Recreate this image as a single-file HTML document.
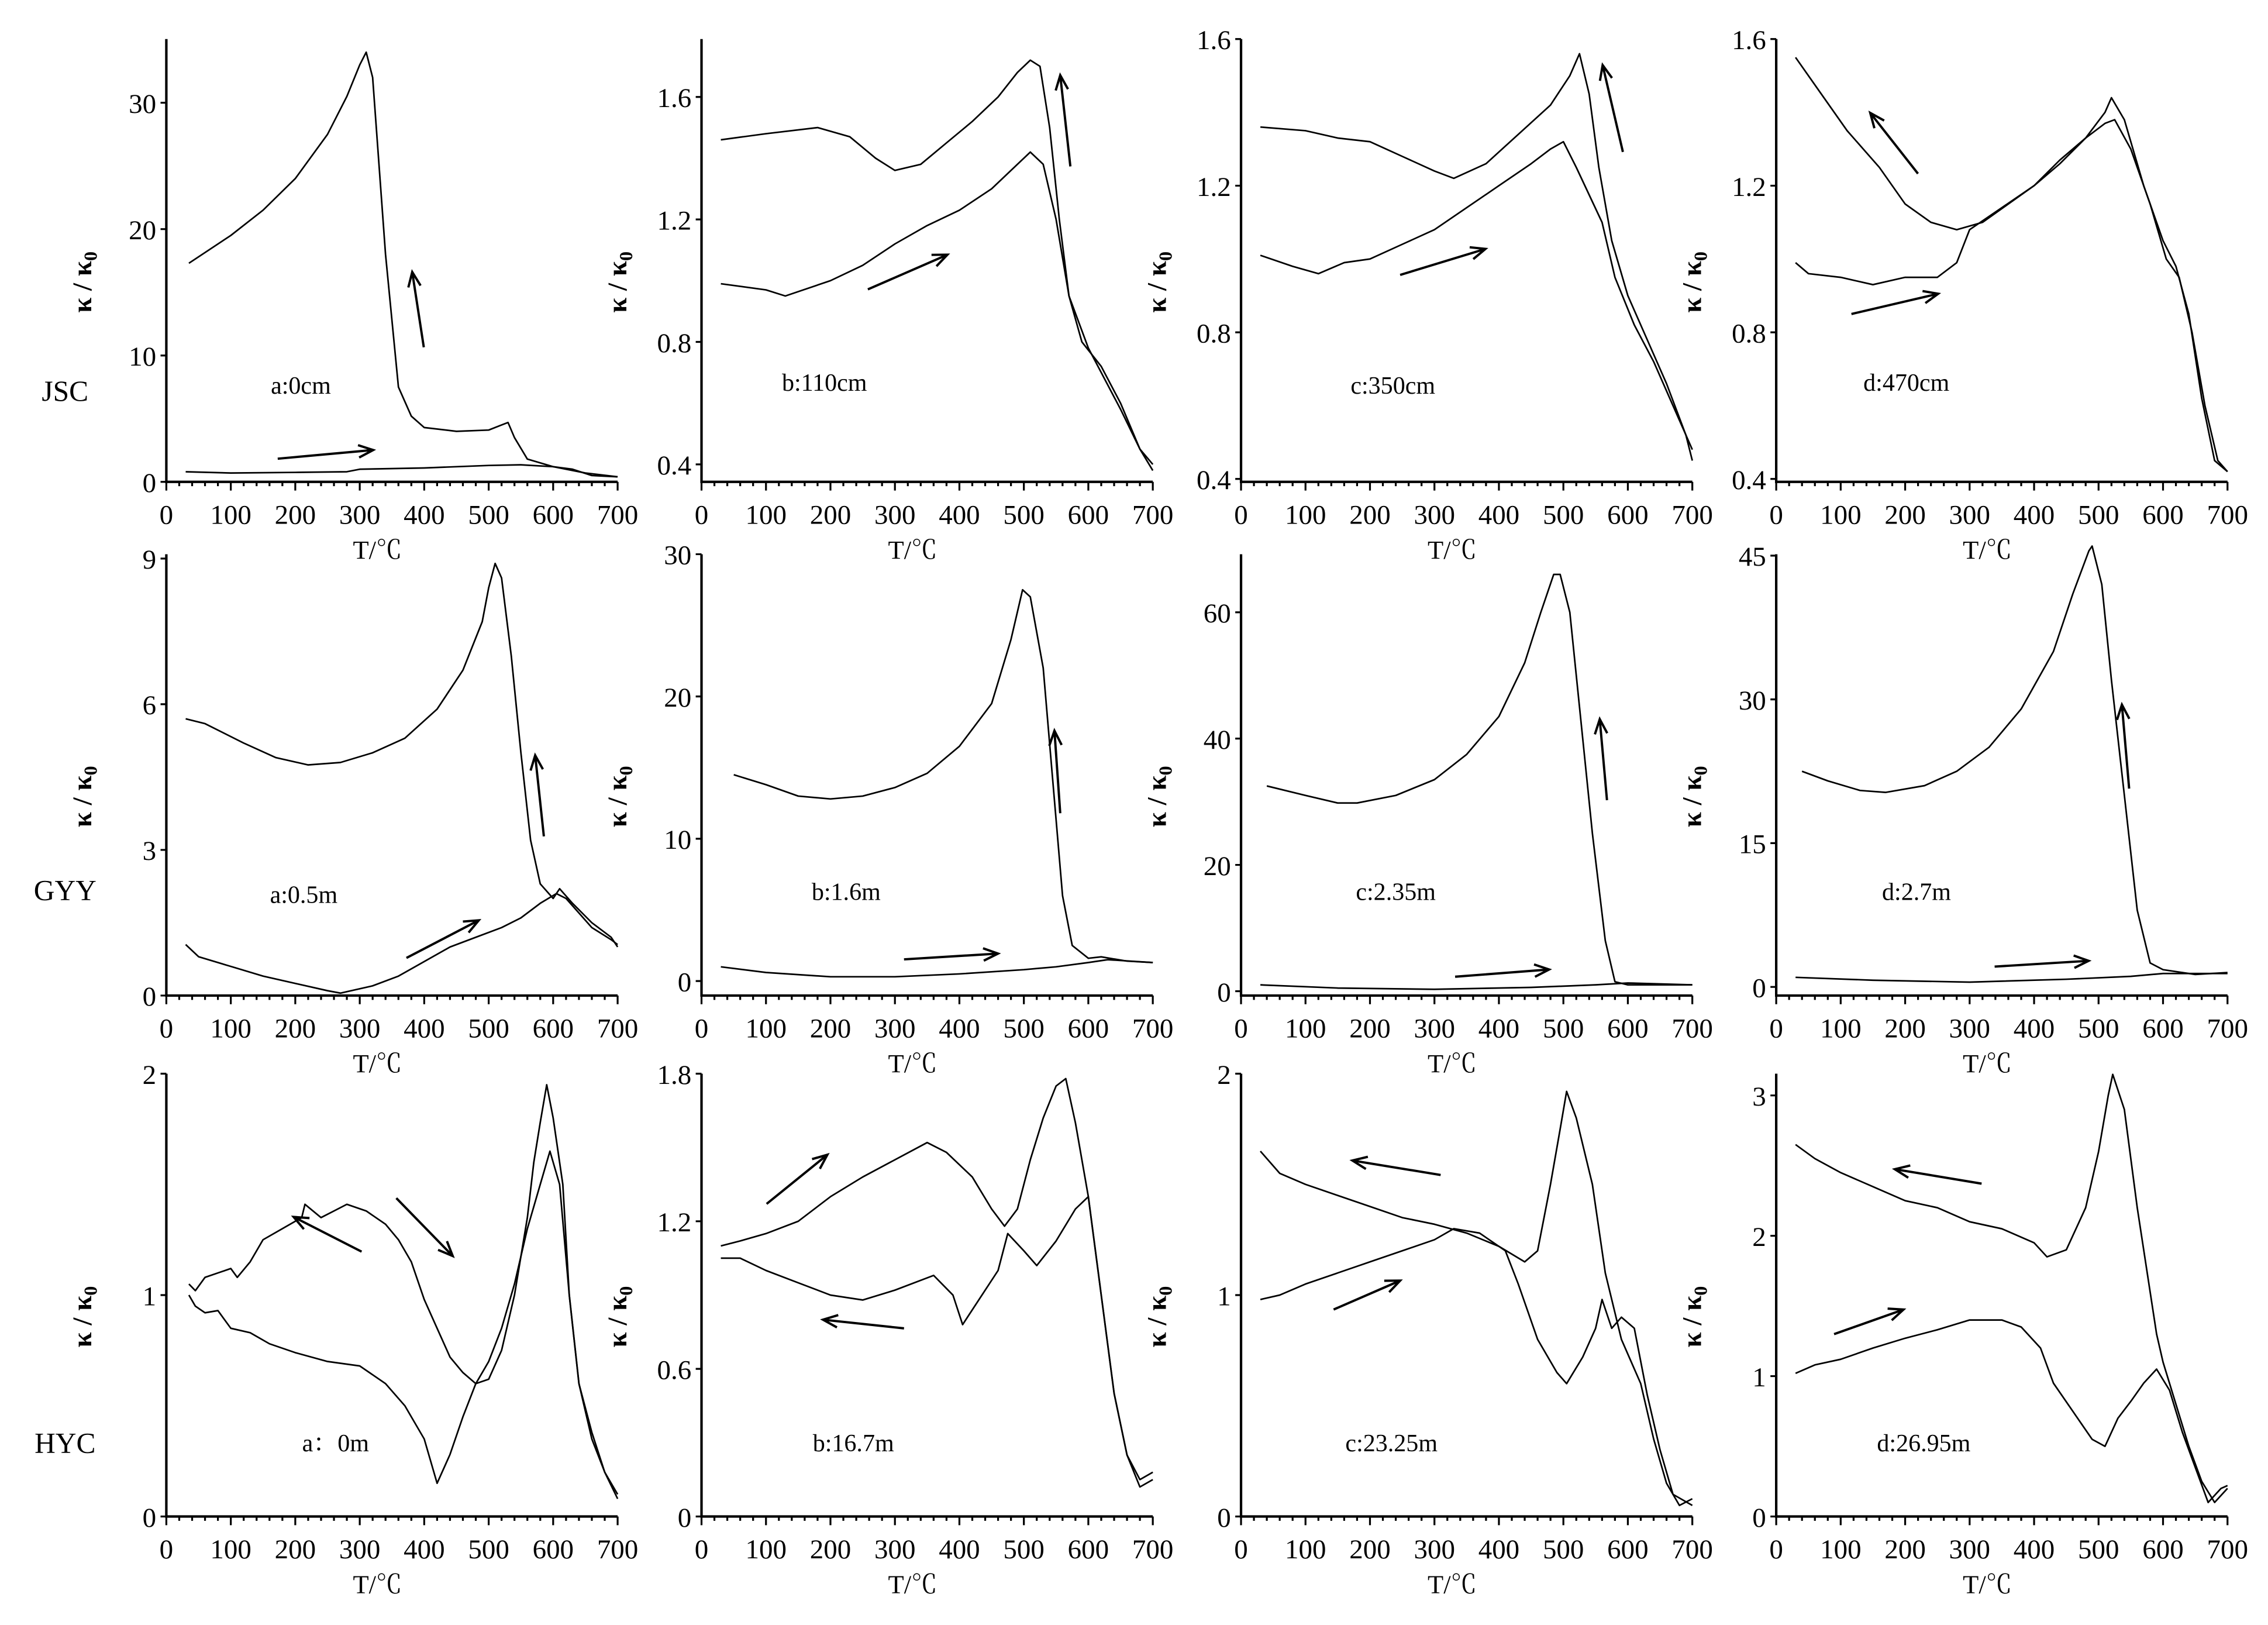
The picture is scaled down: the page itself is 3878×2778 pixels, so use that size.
<!DOCTYPE html>
<html><head><meta charset="utf-8"><title>Thermomagnetic curves</title>
<style>
html,body{margin:0;padding:0;background:#fff;}
svg{display:block;}
text{font-family:"Liberation Serif","Noto Serif CJK SC",serif;fill:#000;}
</style></head>
<body>
<svg id="fig" xmlns="http://www.w3.org/2000/svg" width="3878" height="2778" viewBox="0 0 1568 1123" preserveAspectRatio="none">
<rect x="0" y="0" width="1568" height="1123" fill="#fff"/>
<text x="45" y="277" font-size="20" text-anchor="middle">JSC</text>
<text x="45" y="622" font-size="20" text-anchor="middle">GYY</text>
<text x="45" y="1004" font-size="20" text-anchor="middle">HYC</text>
</svg>
<script>
// ===== data (temperature °C, kappa/kappa0) =====
const r1aHeatT=[30,100,200,280,300,400,500,550,600,630,660,700];
const r1aHeatV=[0.8,0.7,0.75,0.8,1.0,1.1,1.3,1.35,1.2,1.0,0.5,0.4];
const r1aCoolT=[35,100,150,200,250,280,300,310,320,340,360,380,400,450,500,520,530,540,560,600,650,700];
const r1aCoolV=[17.3,19.5,21.5,24,27.5,30.5,33,34,32,18,7.5,5.2,4.3,4.0,4.1,4.5,4.7,3.5,1.8,1.2,0.7,0.4];

const r1bHeatT=[30,100,130,200,250,300,350,400,450,490,510,530,550,570,590,620,650,680,700];
const r1bHeatV=[0.99,0.97,0.95,1.0,1.05,1.12,1.18,1.23,1.3,1.38,1.42,1.38,1.2,0.95,0.8,0.72,0.6,0.45,0.4];
const r1bCoolT=[30,100,180,230,270,300,340,380,420,460,490,510,525,540,555,570,600,620,650,680,700];
const r1bCoolV=[1.46,1.48,1.5,1.47,1.4,1.36,1.38,1.45,1.52,1.6,1.68,1.72,1.7,1.5,1.2,0.95,0.78,0.7,0.58,0.45,0.38];

const r1cHeatT=[30,80,120,160,200,250,300,350,400,450,480,500,520,560,580,610,640,670,700];
const r1cHeatV=[1.01,0.98,0.96,0.99,1.0,1.04,1.08,1.14,1.2,1.26,1.3,1.32,1.25,1.1,0.95,0.82,0.72,0.6,0.48];
const r1cCoolT=[30,100,150,200,250,300,330,380,430,480,510,525,540,555,575,600,630,660,690,700];
const r1cCoolV=[1.36,1.35,1.33,1.32,1.28,1.24,1.22,1.26,1.34,1.42,1.5,1.56,1.45,1.25,1.05,0.9,0.78,0.66,0.52,0.45];

const r1dCoolT=[30,70,110,160,200,240,280,320,360,400,440,480,510,520,540,570,600,620,640,660,680,700];
const r1dCoolV=[1.55,1.45,1.35,1.25,1.15,1.1,1.08,1.1,1.15,1.2,1.27,1.33,1.4,1.44,1.38,1.2,1.05,0.98,0.85,0.62,0.45,0.42];
const r1dHeatT=[30,50,100,150,200,250,280,300,350,400,440,480,510,525,550,580,605,625,645,665,685,700];
const r1dHeatV=[0.99,0.96,0.95,0.93,0.95,0.95,0.99,1.08,1.14,1.2,1.26,1.33,1.37,1.38,1.3,1.15,1.0,0.95,0.8,0.6,0.45,0.42];

const r2aCoolT=[30,60,120,170,220,270,320,370,420,460,490,500,510,520,535,550,565,580,600,610,630,660,690,700];
const r2aCoolV=[5.7,5.6,5.2,4.9,4.75,4.8,5.0,5.3,5.9,6.7,7.7,8.4,8.9,8.6,7,5,3.2,2.3,2.0,2.2,1.9,1.5,1.2,1.0];
const r2aHeatT=[30,50,100,150,200,250,270,320,360,400,440,480,520,550,580,605,620,640,660,690,700];
const r2aHeatV=[1.05,0.8,0.6,0.4,0.25,0.1,0.05,0.2,0.4,0.7,1.0,1.2,1.4,1.6,1.9,2.1,2.0,1.7,1.4,1.15,1.05];

const r2bCoolT=[50,100,150,200,250,300,350,400,450,480,498,510,530,545,560,575,600,620,660,700];
const r2bCoolV=[14.5,13.8,13.0,12.8,13.0,13.6,14.6,16.5,19.5,24,27.5,27,22,14,6,2.5,1.6,1.7,1.4,1.3];
const r2bHeatT=[30,100,200,300,400,500,550,600,630,700];
const r2bHeatV=[1.0,0.6,0.3,0.3,0.5,0.8,1.0,1.3,1.5,1.3];

const r2cCoolT=[40,100,150,180,240,300,350,400,440,465,485,495,510,525,545,565,580,600,700];
const r2cCoolV=[32.5,31,29.8,29.8,31,33.5,37.5,43.5,52,60,66,66,60,45,25,8,1.5,1.0,1.0];
const r2cHeatT=[30,150,300,450,550,600,700];
const r2cHeatV=[1.0,0.5,0.3,0.6,1.0,1.3,1.0];

const r2dCoolT=[40,80,130,170,230,280,330,380,430,460,485,490,505,520,540,560,580,600,650,700];
const r2dCoolV=[22.5,21.5,20.5,20.3,21,22.5,25,29,35,41,45.5,46,42,32,20,8,2.5,1.8,1.3,1.5];
const r2dHeatT=[30,150,300,450,550,600,700];
const r2dHeatV=[1.0,0.7,0.5,0.8,1.1,1.4,1.4];

const r3aHeatT=[35,45,60,80,100,110,130,150,180,210,215,240,260,280,310,340,360,380,400,420,440,460,480,500,520,540,560,570,580,590,600,615,625,640,660,680,700];
const r3aHeatV=[1.05,1.02,1.08,1.1,1.12,1.08,1.15,1.25,1.3,1.35,1.41,1.35,1.38,1.41,1.38,1.32,1.25,1.15,0.98,0.85,0.72,0.65,0.6,0.62,0.75,1.0,1.35,1.6,1.78,1.95,1.8,1.5,1.0,0.6,0.35,0.2,0.08];
const r3aCoolT=[35,45,60,80,100,130,160,200,250,300,340,370,400,420,440,460,480,500,520,540,560,580,595,610,625,640,660,680,700];
const r3aCoolV=[1.0,0.95,0.92,0.93,0.85,0.83,0.78,0.74,0.7,0.68,0.6,0.5,0.35,0.15,0.28,0.45,0.6,0.7,0.85,1.05,1.3,1.5,1.65,1.5,1.0,0.6,0.38,0.2,0.1];

const r3bHeatT=[30,60,100,150,200,250,300,350,380,420,450,470,490,510,530,550,565,580,600,620,640,660,680,700];
const r3bHeatV=[1.1,1.12,1.15,1.2,1.3,1.38,1.45,1.52,1.48,1.38,1.25,1.18,1.25,1.45,1.62,1.75,1.78,1.6,1.3,0.9,0.5,0.25,0.15,0.18];
const r3bCoolT=[30,60,100,150,200,250,300,360,390,405,430,460,475,500,520,550,580,600,620,640,660,680,700];
const r3bCoolV=[1.05,1.05,1.0,0.95,0.9,0.88,0.92,0.98,0.9,0.78,0.88,1.0,1.15,1.08,1.02,1.12,1.25,1.3,0.9,0.5,0.25,0.12,0.15];

const r3cCoolT=[30,60,100,150,200,250,300,350,400,440,460,480,495,505,520,545,565,590,620,640,660,680,700];
const r3cCoolV=[1.65,1.55,1.5,1.45,1.4,1.35,1.32,1.28,1.22,1.15,1.2,1.5,1.75,1.92,1.8,1.5,1.1,0.8,0.6,0.35,0.15,0.05,0.08];
const r3cHeatT=[30,60,100,150,200,250,300,330,370,410,430,460,490,505,530,550,560,575,590,610,630,650,670,700];
const r3cHeatV=[0.98,1.0,1.05,1.1,1.15,1.2,1.25,1.3,1.28,1.2,1.05,0.8,0.65,0.6,0.72,0.85,0.98,0.85,0.9,0.85,0.55,0.3,0.1,0.05];

const r3dCoolT=[30,60,100,150,200,250,300,350,400,420,450,480,500,515,522,540,560,580,590,600,620,640,660,680,700];
const r3dCoolV=[2.65,2.55,2.45,2.35,2.25,2.2,2.1,2.05,1.95,1.85,1.9,2.2,2.6,3.0,3.15,2.9,2.2,1.6,1.3,1.1,0.8,0.5,0.25,0.1,0.2];
const r3dHeatT=[30,60,100,150,200,250,300,350,380,410,430,460,490,510,530,550,570,590,610,630,650,670,690,700];
const r3dHeatV=[1.02,1.08,1.12,1.2,1.27,1.33,1.4,1.4,1.35,1.2,0.95,0.75,0.55,0.5,0.7,0.82,0.95,1.05,0.9,0.6,0.35,0.1,0.2,0.22];

// y-axis tick labels per panel
const ticksR1a=[0,10,20,30], ticksR1b=[0.4,0.8,1.2,1.6], ticksR1c=[0.4,0.8,1.2,1.6], ticksR1d=[0.4,0.8,1.2,1.6];
const ticksR2a=[0,3,6,9], ticksR2b=[0,10,20,30], ticksR2c=[0,20,40,60], ticksR2d=[0,15,30,45];
const ticksR3a=[0,1,2], ticksR3b=[0,0.6,1.2,1.8], ticksR3c=[0,1,2], ticksR3d=[0,1,2,3];
const xTickLabels=[0,100,200,300,400,500,600,700];
const panelLabels=["a:0cm","b:110cm","c:350cm","d:470cm","a:0.5m","b:1.6m","c:2.35m","d:2.7m","a：0m","b:16.7m","c:23.25m","d:26.95m"];

// ===== layout =====
const NS="http://www.w3.org/2000/svg";
const svg=document.getElementById('fig');
const colX=[[115,427],[485,797],[858,1170],[1228,1540]];
const rowY=[[333,27],[688,383],[1048,742]];
const panels=[
 {r:0,c:0,min:0,max:35.04,ticks:ticksR1a,curves:[[r1aHeatT,r1aHeatV],[r1aCoolT,r1aCoolV]],lab:[208,272],arrows:[[192,317,258,311],[293,240,285,188]]},
 {r:0,c:1,min:0.343,max:1.789,ticks:ticksR1b,curves:[[r1bHeatT,r1bHeatV],[r1bCoolT,r1bCoolV]],lab:[570,270],arrows:[[600,200,655,176],[740,115,733,52]]},
 {r:0,c:2,min:0.392,max:1.6,ticks:ticksR1c,curves:[[r1cHeatT,r1cHeatV],[r1cCoolT,r1cCoolV]],lab:[963,272],arrows:[[968,190,1027,172],[1122,105,1108,45]]},
 {r:0,c:3,min:0.392,max:1.6,ticks:ticksR1d,curves:[[r1dHeatT,r1dHeatV],[r1dCoolT,r1dCoolV]],lab:[1318,270],arrows:[[1280,217,1340,203],[1326,120,1293,78]]},
 {r:1,c:0,min:0,max:9.09,ticks:ticksR2a,curves:[[r2aHeatT,r2aHeatV],[r2aCoolT,r2aCoolV]],lab:[210,624],arrows:[[281,662,331,636],[376,578,370,522]]},
 {r:1,c:1,min:-1.02,max:30,ticks:ticksR2b,curves:[[r2bHeatT,r2bHeatV],[r2bCoolT,r2bCoolV]],lab:[585,622],arrows:[[625,663,690,659],[733,562,729,505]]},
 {r:1,c:2,min:-0.69,max:69.2,ticks:ticksR2c,curves:[[r2cHeatT,r2cHeatV],[r2cCoolT,r2cCoolV]],lab:[965,622],arrows:[[1006,675,1071,670],[1111,553,1106,497]]},
 {r:1,c:3,min:-0.9,max:45.15,ticks:ticksR2d,curves:[[r2dHeatT,r2dHeatV],[r2dCoolT,r2dCoolV]],lab:[1325,622],arrows:[[1379,668,1444,664],[1472,545,1467,487]]},
 {r:2,c:0,min:0,max:2,ticks:ticksR3a,curves:[[r3aHeatT,r3aHeatV],[r3aCoolT,r3aCoolV]],lab:[232,1003],arrows:[[274,828,313,868],[250,865,203,841]]},
 {r:2,c:1,min:0,max:1.8,ticks:ticksR3b,curves:[[r3bHeatT,r3bHeatV],[r3bCoolT,r3bCoolV]],lab:[590,1003],arrows:[[530,832,572,798],[625,918,569,912]]},
 {r:2,c:2,min:0,max:2,ticks:ticksR3c,curves:[[r3cHeatT,r3cHeatV],[r3cCoolT,r3cCoolV]],lab:[962,1003],arrows:[[996,812,935,802],[922,905,968,885]]},
 {r:2,c:3,min:0,max:3.155,ticks:ticksR3d,curves:[[r3dHeatT,r3dHeatV],[r3dCoolT,r3dCoolV]],lab:[1330,1003],arrows:[[1370,818,1310,808],[1268,922,1316,905]]}
];
function mk(tag,attrs,parent){const e=document.createElementNS(NS,tag);for(const k in attrs)e.setAttribute(k,attrs[k]);(parent||svg).appendChild(e);return e;}

panels.forEach((p,i)=>{
 const [x0,x1]=colX[p.c];const [yb,yt]=rowY[p.r];
 const xs=t=>x0+(t/700)*(x1-x0);
 const ys=v=>yb-(v-p.min)/(p.max-p.min)*(yb-yt);
 const g=mk('g',{});
 
 
 const ax=mk('path',{d:`M${x0},${yt} L${x0},${yb} L${x1},${yb}`,fill:'none',stroke:'#000','stroke-width':1.7},g);
 
 
 let tk='';
 for(let t=0;t<=700;t+=20){const X=xs(t);tk+=`M${X},${yb} L${X},${yb+(t%100===0?6:3)} `;}
 p.ticks.forEach(v=>{const Y=ys(v);tk+=`M${x0-4},${Y} L${x0},${Y} `;});
 const tp=mk('path',{d:tk,stroke:'#000','stroke-width':1.3,fill:'none'},g);
 
 
 xTickLabels.forEach(t=>{
  const e=mk('text',{x:xs(t),y:yb+29,'font-size':19,'text-anchor':'middle'},g);e.textContent=t;
  
  
 });
 p.ticks.forEach(v=>{
  const e=mk('text',{x:x0-7,y:ys(v)+7,'font-size':19,'text-anchor':'end'},g);e.textContent=v;
  
  
 });
 const xt=mk('text',{x:(x0+x1)/2-10,y:yb+53,'font-size':18,'text-anchor':'middle'},g);xt.textContent='T/℃';
 
 
 const ymid=(yb+yt)/2+15;
 const yl=mk('text',{x:x0-52,y:ymid,'font-size':19,'font-weight':'bold','text-anchor':'middle',transform:`rotate(-90 ${x0-52} ${ymid})`},g);
 yl.innerHTML='κ / κ<tspan font-size="13" dy="4">0</tspan>';
 
 
 const pl=mk('text',{x:p.lab[0],y:p.lab[1],'font-size':17,'text-anchor':'middle'},g);pl.textContent=panelLabels[i];
 
 
 p.curves.forEach((cv,j)=>{
  const [T,V]=cv;
  const d=T.map((t,k)=>(k?'L':'M')+xs(t).toFixed(2)+','+ys(V[k]).toFixed(2)).join(' ');
  const e=mk('path',{d:d,fill:'none',stroke:'#000','stroke-width':1.1,'stroke-linejoin':'round'},g);
  
  
 });
 p.arrows.forEach(a=>{
  const [ax1,ay1,ax2,ay2]=a;const ang=Math.atan2(ay2-ay1,ax2-ax1);const L=11,w=0.4;
  const h1=[ax2-L*Math.cos(ang-w),ay2-L*Math.sin(ang-w)],h2=[ax2-L*Math.cos(ang+w),ay2-L*Math.sin(ang+w)];
  const e=mk('path',{d:`M${ax1},${ay1} L${ax2},${ay2} M${h1[0]},${h1[1]} L${ax2},${ay2} L${h2[0]},${h2[1]}`,fill:'none',stroke:'#000','stroke-width':1.6},g);
  
  
 });
});
</script>
</body></html>
